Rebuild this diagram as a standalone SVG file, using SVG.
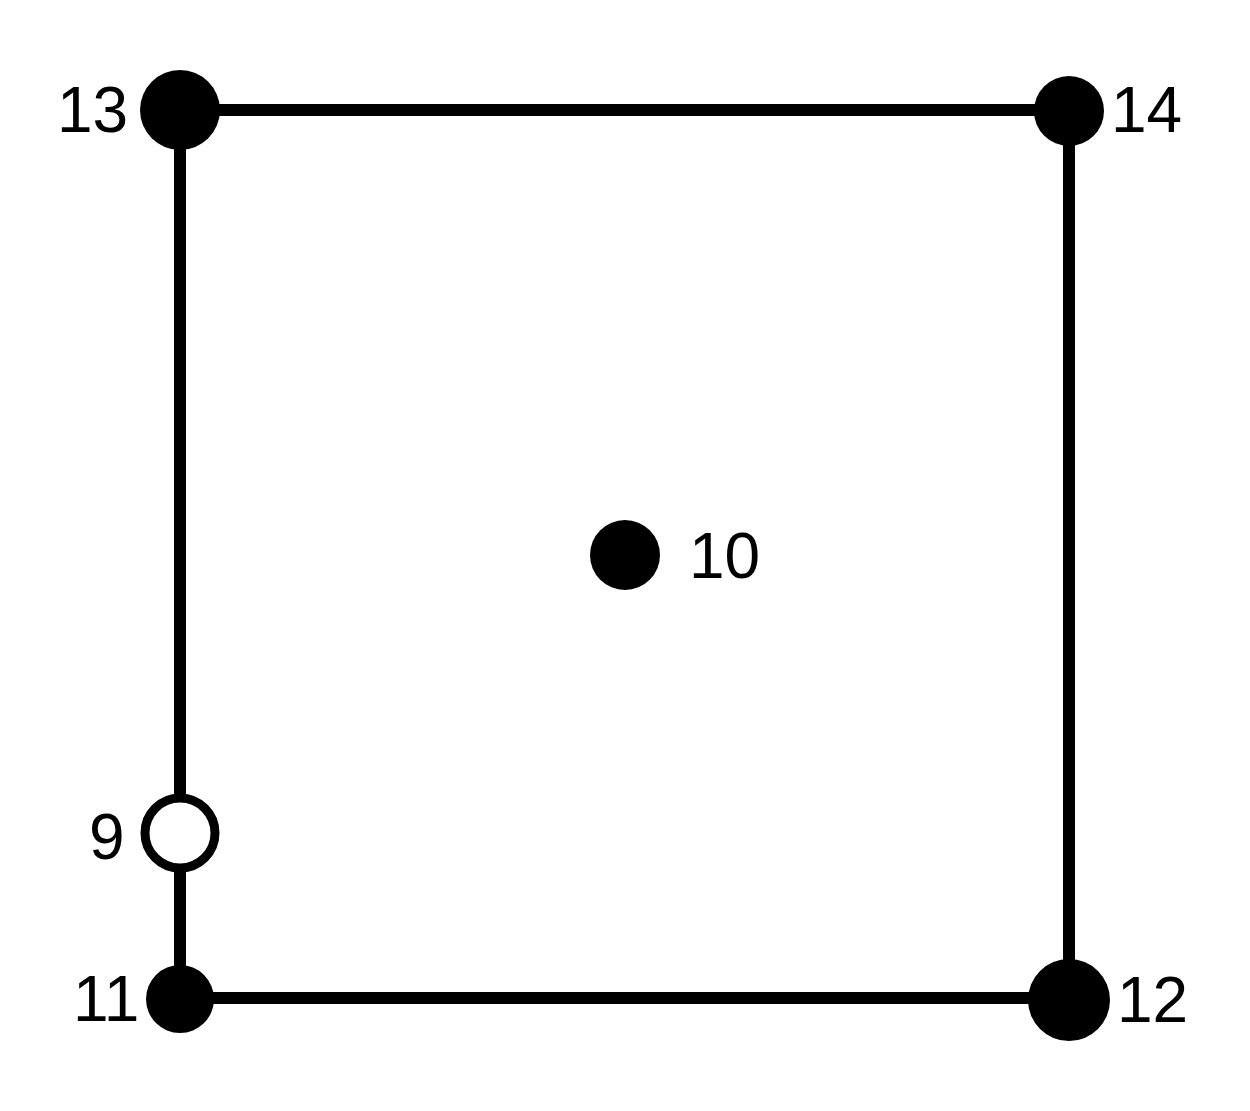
<svg xmlns="http://www.w3.org/2000/svg" width="1250" height="1111" viewBox="0 0 1250 1111">
<style>
.edge{stroke:#000;stroke-width:12;fill:none}
.n{fill:#000}
.o{fill:#fff;stroke:#000;stroke-width:9}
.lbl{font-family:"Liberation Sans",Arial,sans-serif;font-size:64px;fill:#000}
</style>
<rect width="1250" height="1111" fill="#fff"/>
<g id="edges">
<line class="edge" x1="180" y1="110" x2="1069" y2="110"/>
<line class="edge" x1="180" y1="110" x2="180" y2="998"/>
<line class="edge" x1="1069" y1="110" x2="1069" y2="998"/>
<line class="edge" x1="180" y1="998" x2="1069" y2="998"/>
</g>
<g id="node13"><circle class="n" cx="180" cy="110" r="40"/><text class="lbl" x="57" y="132">13</text></g>
<g id="node14"><circle class="n" cx="1069" cy="111" r="35"/><text class="lbl" x="1111" y="132">14</text></g>
<g id="node10"><circle class="n" cx="625" cy="555" r="35"/><text class="lbl" x="689" y="578">10</text></g>
<g id="node9"><circle class="o" cx="180" cy="833" r="35"/><text class="lbl" x="89" y="859">9</text></g>
<g id="node11"><circle class="n" cx="180" cy="999" r="34"/><text class="lbl" x="73" y="1021">11</text></g>
<g id="node12"><circle class="n" cx="1069" cy="1000" r="41"/><text class="lbl" x="1117" y="1022">12</text></g>
</svg>
